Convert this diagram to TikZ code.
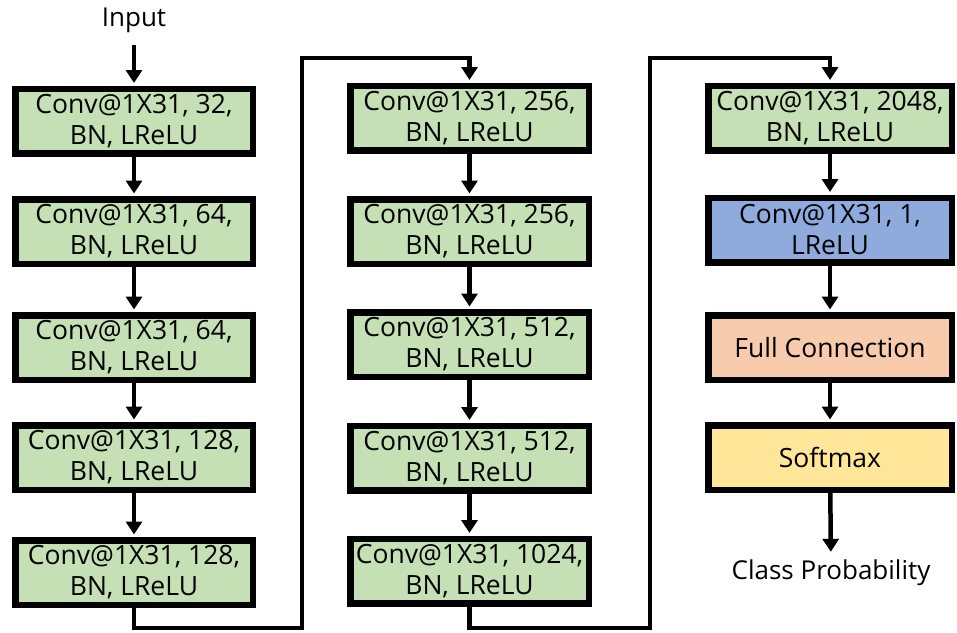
\documentclass[tikz,border=0pt]{standalone}
\usepackage{fontspec}
\setmainfont{Open Sans}
\usetikzlibrary{arrows.meta}
\definecolor{convgreen}{HTML}{C5E0B4}
\definecolor{convblue}{HTML}{8FAADC}
\definecolor{fcorange}{HTML}{F8CBAD}
\definecolor{smyellow}{HTML}{FFE699}
\begin{document}
\begin{tikzpicture}[x=1pt,y=-1pt,
  blk/.style={draw=black, line width=6.5pt, minimum width=#1, minimum height=64.5pt,
    inner sep=0pt, align=center, font=\fontsize{26.5}{31}\selectfont},
  gblk/.style={blk=#1, fill=convgreen},
  lbl/.style={inner sep=2pt, font=\fontsize{26}{31}\selectfont},
  arr/.style={line width=4.5pt, line join=miter, -{Triangle[width=16pt,length=13pt]}, shorten >=2.5pt}
]
\useasboundingbox (0,0) rectangle (957,632);

% labels
\node[lbl] (in) at (134,20) {Input};
\node[lbl] (out) at (831,573) {Class Probability};

% first column
\node[gblk=237.5] (a1) at (134,121)   {Conv@1X31, 32,\\BN, LReLU};
\node[gblk=237.5] (a2) at (134,231.5) {Conv@1X31, 64,\\BN, LReLU};
\node[gblk=237.5] (a3) at (134,347.5) {Conv@1X31, 64,\\BN, LReLU};
\node[gblk=237.5] (a4) at (134,457.5) {Conv@1X31, 128,\\BN, LReLU};
\node[gblk=237.5] (a5) at (134,572.5) {Conv@1X31, 128,\\BN, LReLU};

% second column
\node[gblk=238.5] (b1) at (469.5,118)   {Conv@1X31, 256,\\BN, LReLU};
\node[gblk=238.5] (b2) at (469.5,231.5) {Conv@1X31, 256,\\BN, LReLU};
\node[gblk=238.5] (b3) at (469.5,344.5) {Conv@1X31, 512,\\BN, LReLU};
\node[gblk=238.5] (b4) at (469.5,458)   {Conv@1X31, 512,\\BN, LReLU};
\node[gblk=238.5] (b5) at (469.5,571)   {Conv@1X31, 1024,\\BN, LReLU};

% third column
\node[gblk=243.5] (c1) at (830,118) {Conv@1X31, 2048,\\BN, LReLU};
\node[blk=243.5, fill=convblue] (c2) at (830,230) {Conv@1X31, 1,\\LReLU};
\node[blk=243.5, fill=fcorange] (c3) at (830,347.5) {Full Connection};
\node[blk=243.5, fill=smyellow] (c4) at (830,457.5) {Softmax};

% routing points between columns
\coordinate (p1) at (134,628);
\coordinate (p2) at (302,628);
\coordinate (p3) at (302,58);
\coordinate (p4) at (469.5,58);
\coordinate (q1) at (469.5,628);
\coordinate (q2) at (650,628);
\coordinate (q3) at (650,58);
\coordinate (q4) at (830,58);

% connectors
\draw[arr, shorten <=10pt] (in) -- (a1);
\draw[arr] (a1) -- (a2);
\draw[arr] (a2) -- (a3);
\draw[arr] (a3) -- (a4);
\draw[arr] (a4) -- (a5);
\draw[arr] (a5.south) -- (p1) -- (p2) -- (p3) -- (p4) -- (b1.north);
\draw[arr] (b1) -- (b2);
\draw[arr] (b2) -- (b3);
\draw[arr] (b3) -- (b4);
\draw[arr] (b4) -- (b5);
\draw[arr] (b5.south) -- (q1) -- (q2) -- (q3) -- (q4) -- (c1.north);
\draw[arr] (c1) -- (c2);
\draw[arr] (c2) -- (c3);
\draw[arr] (c3) -- (c4);
\draw[arr, shorten >=6pt] (c4) -- (out);
\end{tikzpicture}
\end{document}
